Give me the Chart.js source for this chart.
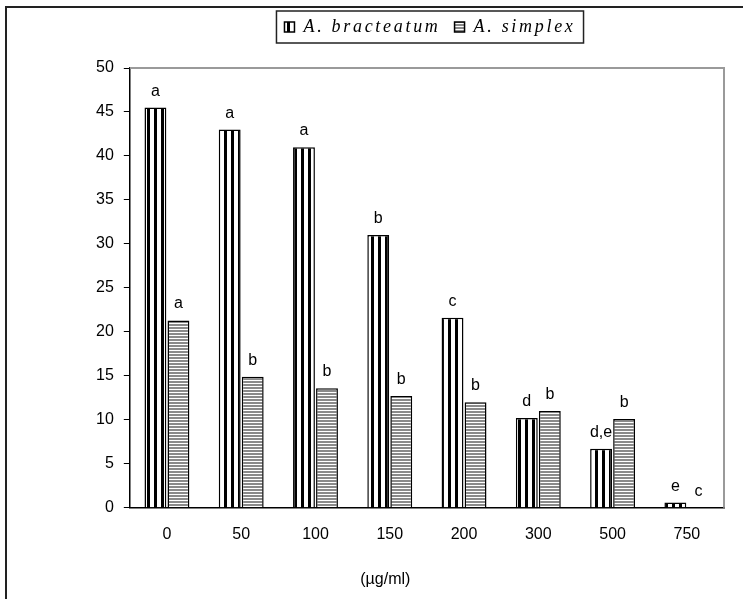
<!DOCTYPE html>
<html>
<head>
<meta charset="utf-8">
<script src="https://cdn.jsdelivr.net/npm/chart.js@4"></script>
<style>
    html, body { margin: 0; padding: 0; background: #fff; }
    #wrap { position: relative; width: 743px; height: 599px; }
    #frame { position: absolute; left: 5px; top: 6px; width: 740px; height: 600px;
             border-top: 2px solid #222; border-left: 2px solid #222; pointer-events: none; }
</style>
</head>
<body>
<div id="wrap">
    <canvas id="concChart" width="743" height="599"></canvas>
    <div id="frame"></div>
</div>
<script>
const concentrations = ["0", "50", "100", "150", "200", "300", "500", "750"];
const bracteatumValues = [45.5, 43.0, 41.0, 31.0, 21.6, 10.2, 6.7, 0.6];
const simplexValues = [21.3, 14.9, 13.6, 12.7, 12.0, 11.0, 10.1, 0];
const bracteatumLetters = ["a", "a", "a", "b", "c", "d", "d,e", "e"];
const simplexLetters = ["a", "b", "b", "b", "b", "b", "b", "c"];
const yTicks = [0, 5, 10, 15, 20, 25, 30, 35, 40, 45, 50];

function makePattern(kind) {
    const c = document.createElement("canvas");
    const g = c.getContext("2d");
    if (kind === "vertical") {
        c.width = 7; c.height = 4;
        g.fillStyle = "#fff";
        g.fillRect(0, 0, 7, 4);
        g.fillStyle = "#000";
        g.fillRect(0, 0, 3, 4);
    } else {
        c.width = 4; c.height = 3;
        g.fillStyle = "#fff";
        g.fillRect(0, 0, 4, 3);
        g.fillStyle = "#8a8a8a";
        g.fillRect(0, 0, 4, 2);
    }
    return g.createPattern(c, "repeat");
}

const verticalStripes = makePattern("vertical");
const horizontalStripes = makePattern("horizontal");

// the legend text in the original is widely spaced and sits right of centre
const spacedLegend = {
    id: "spacedLegend",
    afterInit(chart) {
        const legend = chart.legend;
        const fit = legend.fit;
        const draw = legend.draw;
        legend.fit = function() {
            chart.ctx.save();
            chart.ctx.letterSpacing = "2.7px";
            fit.call(this);
            chart.ctx.restore();
            this.height += 22;
        };
        legend.draw = function() {
            chart.ctx.save();
            chart.ctx.letterSpacing = "2.7px";
            draw.call(this);
            chart.ctx.restore();
        };
    },
    afterLayout(chart) {
        chart.legend.left += 25;
        chart.legend.right += 25;
    }
};

const frameAndLetters = {
    id: "frameAndLetters",
    beforeDatasetsDraw(chart) {
        const { ctx, chartArea } = chart;
        ctx.save();
        ctx.strokeStyle = "#9a9a9a";
        ctx.lineWidth = 2;
        ctx.beginPath();
        ctx.moveTo(chartArea.left, chartArea.top);
        ctx.lineTo(chartArea.right, chartArea.top);
        ctx.lineTo(chartArea.right, chartArea.bottom);
        ctx.stroke();
        ctx.restore();
    },
    afterDatasetsDraw(chart) {
        const { ctx } = chart;
        const letterSets = [bracteatumLetters, simplexLetters];
        ctx.save();
        ctx.fillStyle = "#000";
        ctx.font = "16px 'Liberation Sans', Arial, sans-serif";
        ctx.textAlign = "center";
        ctx.textBaseline = "alphabetic";
        letterSets.forEach((letters, di) => {
            chart.getDatasetMeta(di).data.forEach((bar, i) => {
                ctx.fillText(letters[i], bar.x, bar.y - 12);
            });
        });
        // axis title
        const area = chart.chartArea;
        ctx.fillText("(\u00b5g/ml)", area.left + (area.right - area.left) * 0.43, 584);
        // legend frame
        const boxes = chart.legend.legendHitBoxes;
        if (boxes && boxes.length) {
            const first = boxes[0];
            const last = boxes[boxes.length - 1];
            ctx.strokeStyle = "#222";
            ctx.lineWidth = 1.5;
            ctx.strokeRect(first.left - 8, first.top - 7, last.left + last.width - first.left + 16, first.height + 14);
        }
        ctx.restore();
    }
};

new Chart(document.getElementById("concChart"), {
    type: "bar",
    data: {
        labels: concentrations,
        datasets: [
            {
                label: "A. bracteatum",
                data: bracteatumValues,
                backgroundColor: verticalStripes,
                borderColor: "#000",
                borderWidth: 1.5,
                categoryPercentage: 0.62,
                barPercentage: 0.95
            },
            {
                label: "A. simplex",
                data: simplexValues,
                backgroundColor: horizontalStripes,
                borderColor: "#000",
                borderWidth: 1.5,
                categoryPercentage: 0.62,
                barPercentage: 0.95
            }
        ]
    },
    options: {
        responsive: false,
        animation: false,
        layout: {
            padding: { left: 86, right: 19, top: 4, bottom: 46 }
        },
        plugins: {
            legend: {
                position: "top",
                labels: {
                    color: "#000",
                    boxWidth: 10,
                    boxHeight: 10,
                    padding: 14,
                    font: {
                        family: "'Liberation Serif', 'Times New Roman', serif",
                        style: "italic",
                        size: 18
                    }
                }
            },
            tooltip: { enabled: false }
        },
        scales: {
            y: {
                min: 0,
                max: 50,
                afterBuildTicks: function(scale) {
                    scale.ticks = yTicks.map(v => ({ value: v }));
                },
                ticks: {
                    color: "#000",
                    padding: 10,
                    font: { family: "'Liberation Sans', Arial, sans-serif", size: 16 }
                },
                grid: {
                    drawOnChartArea: false,
                    drawTicks: true,
                    tickLength: 6,
                    color: "#000"
                },
                border: { display: true, color: "#000", width: 1.5 }
            },
            x: {
                ticks: {
                    color: "#000",
                    padding: 9,
                    font: { family: "'Liberation Sans', Arial, sans-serif", size: 16 }
                },
                grid: { display: false },
                border: { display: true, color: "#000", width: 1.5 }
            }
        }
    },
    plugins: [spacedLegend, frameAndLetters]
});
</script>
</body>
</html>
